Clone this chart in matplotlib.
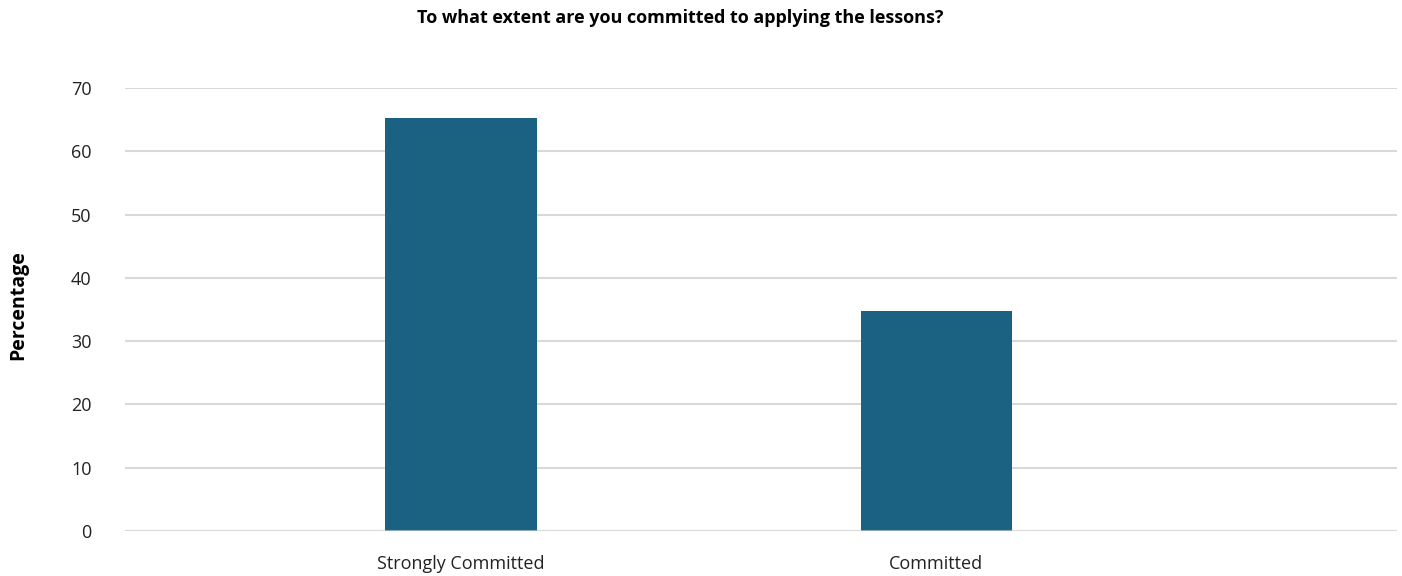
import matplotlib.pyplot as plt

categories = ["Strongly Committed", "Committed"]
values = [65.2, 34.8]
yticks = [0, 10, 20, 30, 40, 50, 60, 70]

plt.rcParams['font.family'] = ['Open Sans', 'DejaVu Sans']

fig = plt.figure(figsize=(14.02, 5.76), dpi=100)
ax = fig.add_axes([0.0892, 0.0781, 0.9072, 0.7691])

x = list(range(len(categories)))
ax.bar(x, values, width=0.318, color='#1b6182', zorder=2)

# horizontal grid only, zero line sits over the bars
ax.set_ylim(0, 70)
ax.set_yticks(yticks)
ax.yaxis.grid(True, color='#d9d9d9', linewidth=1.5, zorder=1)
ax.axhline(0, color='#d9d9d9', linewidth=1.5, alpha=0.6, zorder=3)
ax.set_axisbelow(True)
ax.set_xlim(-0.707, 1.97)
ax.set_xticks(x)
ax.set_xticklabels(categories)

for s in ax.spines.values():
    s.set_visible(False)
ax.tick_params(axis='both', length=0, labelsize=13, colors='#222222')
ax.tick_params(axis='y', pad=24)
ax.tick_params(axis='x', pad=17)

fig.text(0.485, 0.968, 'To what extent are you committed to applying the lessons?',
         ha='center', va='center', fontsize=13, fontweight='bold')
fig.text(0.013, 0.47, 'Percentage', rotation=90, ha='center', va='center',
         fontsize=14, fontweight='bold')

fig.savefig('out.png', dpi=100)
